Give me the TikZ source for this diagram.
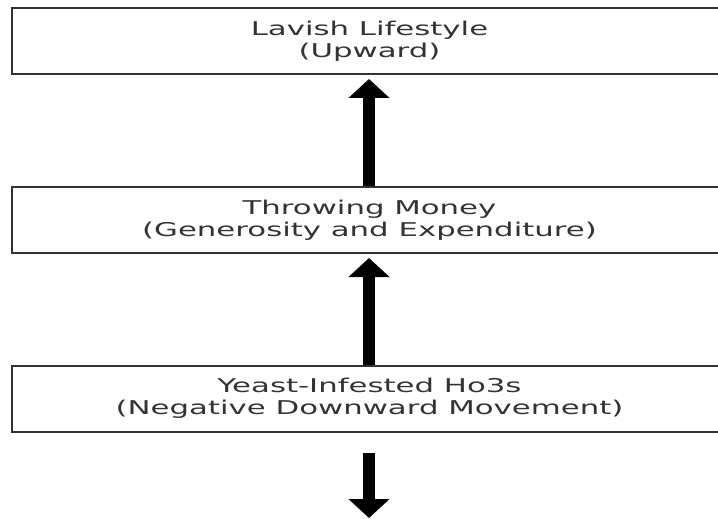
\documentclass[tikz,border=0pt]{standalone}
\usepackage{fontspec}
\usepackage{graphicx}
\setmainfont{DejaVu Sans}
\usetikzlibrary{arrows.meta}
% text is drawn stretched sideways
\newcommand\wide[1]{\scalebox{1.62}[1]{#1}}
\tikzset{
  stagebox/.style={draw=black!80, line width=2pt, fill=white,
    minimum width=715pt, minimum height=66pt, inner sep=0pt,
    align=center, text=black!80,
    font=\fontsize{19}{22}\selectfont},
  flow/.style={line width=12pt, black,
    -{Triangle[width=40pt,length=19pt]}}
}
\begin{document}
\begin{tikzpicture}[x=1pt,y=-1pt]
  \useasboundingbox (0,0) rectangle (718,519);
  \clip (0,0) rectangle (718,519);
  \fill[white] (0,0) rectangle (718,519);

  \node[stagebox] (lavish) at (369.5,41)
    {\wide{Lavish Lifestyle}\\\wide{(Upward)}};
  \node[stagebox] (money) at (369.5,220)
    {\wide{Throwing Money}\\\wide{(Generosity and Expenditure)}};
  \node[stagebox] (yeast) at (369.5,398.5)
    {\wide{Yeast-Infested Ho3s}\\\wide{(Negative Downward Movement)}};
  \coordinate (down) at (369,518);

  \draw[flow, shorten >=4pt] (money.north -| 369,0) -- (lavish.south -| 369,0);
  \draw[flow, shorten >=4pt] (yeast.north -| 369,0) -- (money.south -| 369,0);
  \draw[flow] (369,453) -- (down);
\end{tikzpicture}
\end{document}
